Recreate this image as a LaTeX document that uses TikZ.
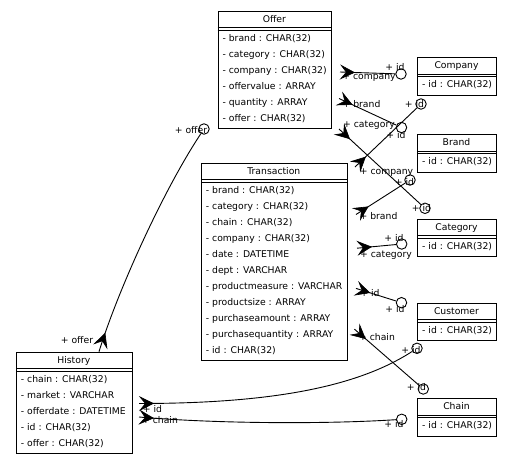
\documentclass[tikz,border=0pt]{standalone}
\usepackage{fontspec}
\newfontfamily\dejavu{DejaVu Sans}
\usetikzlibrary{arrows.meta,decorations.markings}
\tikzset{
  classbox/.style={draw=black, line width=0.9pt, inner sep=0pt, anchor=north west},
  sepline/.style={draw=black, line width=0.8pt},
  txt/.style={font={\dejavu\fontsize{9.25pt}{11pt}\selectfont}, inner sep=0pt, text=black},
  lbl/.style={txt, anchor=base},
  conn/.style={draw=black, line width=0.9pt},
  crowfoot/.style={postaction={decorate}, decoration={markings,
      mark=at position #1 with {\arrow{Stealth[length=15pt,width=15pt,inset=6pt,line width=0.6pt]}}}},
  crowfoot/.default=15pt,
  endcircle/.style={circle, draw=black, line width=0.9pt, minimum size=10.5pt, inner sep=0pt},
}
% name, x, y, width, title, rows, attributes
\newcommand{\umlclass}[7]{%
  \node[classbox, minimum width=#4pt, minimum height={(21.3+16*#6)*1pt}] (#1) at (#2,#3) {};
  \node[txt, anchor=base] (#1-title) at (#2+#4/2,#3+11.5) {#5};
  \draw[sepline] (#2,#3+17) -- (#2+#4,#3+17);
  \draw[sepline] (#2,#3+19.3) -- (#2+#4,#3+19.3);
  \foreach \a [count=\i] in {#7} {\node[txt, anchor=base west] (#1-a\i) at (#2+4.7,#3+14.3+16*\i) {\a};}
}
\begin{document}
\begin{tikzpicture}[x=1pt,y=-1pt]
\fill[white] (0,0) rectangle (512,464);
\useasboundingbox (0,0) rectangle (512,464);

% classes
\umlclass{offer}{217.7}{10.7}{113.3}{Offer}{6}{- brand : CHAR(32),- category : CHAR(32),- company : CHAR(32),- offervalue : ARRAY,- quantity : ARRAY,- offer : CHAR(32)}
\umlclass{transaction}{201}{162.7}{145.7}{Transaction}{11}{- brand : CHAR(32),- category : CHAR(32),- chain : CHAR(32),- company : CHAR(32),- date : DATETIME,- dept : VARCHAR,- productmeasure : VARCHAR,- productsize : ARRAY,- purchaseamount : ARRAY,- purchasequantity : ARRAY,- id : CHAR(32)}
\umlclass{history}{16}{351.7}{115.7}{History}{5}{- chain : CHAR(32),- market : VARCHAR,- offerdate : DATETIME,- id : CHAR(32),- offer : CHAR(32)}
\umlclass{company}{417.3}{57.3}{78.4}{Company}{1}{- id : CHAR(32)}
\umlclass{brand}{417.3}{134.3}{78.4}{Brand}{1}{- id : CHAR(32)}
\umlclass{category}{417.3}{218.7}{78.4}{Category}{1}{- id : CHAR(32)}
\umlclass{customer}{417.3}{302.7}{78.4}{Customer}{1}{- id : CHAR(32)}
\umlclass{chain}{417.3}{398.3}{78.4}{Chain}{1}{- id : CHAR(32)}

% connector end points
\coordinate (cA) at (340,72);
\coordinate (cB) at (339,98.5);
\coordinate (cC) at (339,129);
\coordinate (cD) at (355,167);
\coordinate (cE) at (356,214.5);
\coordinate (cG) at (357,248.2);
\coordinate (cH) at (356,288.4);
\coordinate (cI) at (354.5,329.2);
\coordinate (cJ) at (139,403.5);
\coordinate (cK) at (139,417);
\coordinate (cL) at (99,351.7);

\node[endcircle] (oA) at (401,74) {};
\node[endcircle] (oB) at (401.5,127.5) {};
\node[endcircle] (oC) at (425,208.3) {};
\node[endcircle] (oD) at (421,104) {};
\node[endcircle] (oE) at (410,180) {};
\node[endcircle] (oG) at (401.7,244) {};
\node[endcircle] (oH) at (401.5,302.7) {};
\node[endcircle] (oI) at (423.3,389) {};
\node[endcircle] (oJ) at (417,348.3) {};
\node[endcircle] (oK) at (401.7,419.3) {};
\node[endcircle] (oL) at (204,129) {};

% connectors
\draw[conn, crowfoot] (cA) -- (oA);
\draw[conn, crowfoot] (cB) -- (oB);
\draw[conn, crowfoot] (cC) -- (oC);
\draw[conn, crowfoot] (cD) -- (oD);
\draw[conn, crowfoot] (cE) -- (oE);
\draw[conn, crowfoot] (cG) -- (oG);
\draw[conn, crowfoot] (cH) -- (oH);
\draw[conn, crowfoot] (cI) -- (oI);
\draw[conn, crowfoot] (cJ) .. controls (270,403.5) and (357,387.3) .. (oJ);
\draw[conn, crowfoot] (cK) .. controls (220,424) and (330,424) .. (oK);
\draw[conn, crowfoot=20pt] (cL) .. controls (118,290) and (164,189) .. (oL);

% labels
\node[lbl] (lA1) at (395,70.8) {+ id};
\node[lbl] (lA2) at (369,79.2) {+ company};
\node[lbl] (lB1) at (361.5,107.5) {+ brand};
\node[lbl] (lB2) at (396,138.5) {+ id};
\node[lbl] (lC1) at (369,127.5) {+ category};
\node[lbl] (lC2) at (421.5,211.5) {+ id};
\node[lbl] (lD1) at (386.5,174.5) {+ company};
\node[lbl] (lD2) at (414.5,107.5) {+ id};
\node[lbl] (lE1) at (378.5,219.5) {+ brand};
\node[lbl] (lE2) at (404.5,185) {+ id};
\node[lbl] (lG1) at (386,257.5) {+ category};
\node[lbl] (lG2) at (394,241) {+ id};
\node[lbl] (lH1) at (370,296.8) {+ id};
\node[lbl] (lH2) at (395,312.8) {+ id};
\node[lbl] (lI1) at (377,340.8) {+ chain};
\node[lbl] (lI2) at (416.5,390.8) {+ id};
\node[lbl] (lJ1) at (152.5,412) {+ id};
\node[lbl] (lJ2) at (411,353.5) {+ id};
\node[lbl] (lK1) at (160,423.5) {+ chain};
\node[lbl] (lK2) at (394,427.8) {+ id};
\node[lbl] (lL1) at (77,343.5) {+ offer};
\node[lbl] (lL2) at (191,133.5) {+ offer};
\end{tikzpicture}
\end{document}
